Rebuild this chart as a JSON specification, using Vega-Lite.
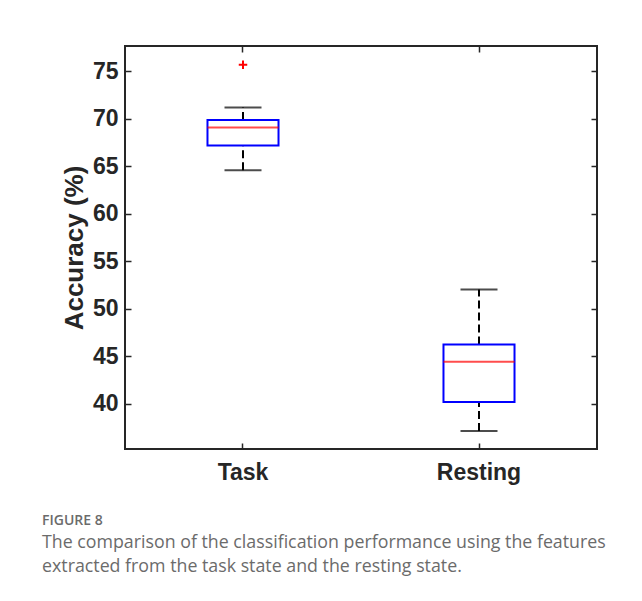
{
  "$schema": "https://vega.github.io/schema/vega-lite/v6.json",
  "width": 472,
  "height": 403,
  "autosize": {"type": "none"},
  "padding": {"left": 125, "top": 46, "right": 45, "bottom": 152},
  "background": "white",
  "datasets": {
    "stats": [
      {"group": "Task", "lower": 64.6, "q1": 67.2, "median": 69.1, "q3": 69.9, "upper": 71.2},
      {"group": "Resting", "lower": 37.15, "q1": 40.2, "median": 44.45, "q3": 46.25, "upper": 52.05}
    ],
    "outliers": [
      {"group": "Task", "value": 75.7}
    ]
  },
  "data": {"name": "stats"},
  "title": {
    "text": "FIGURE 8",
    "subtitle": ["The comparison of the classification performance using the features", "extracted from the task state and the resting state."],
    "orient": "bottom",
    "anchor": "start",
    "frame": "group",
    "dx": -83,
    "offset": 30,
    "font": "Open Sans",
    "fontSize": 14,
    "fontWeight": 600,
    "color": "#6b6b6b",
    "subtitleFont": "Open Sans",
    "subtitleFontSize": 17.8,
    "subtitleFontWeight": 400,
    "subtitleColor": "#6b6b6b",
    "subtitleLineHeight": 24,
    "subtitlePadding": 6
  },
  "config": {
    "view": {"stroke": "#262626", "strokeWidth": 2},
    "axis": {
      "domain": false,
      "grid": false,
      "tickSize": -6,
      "tickWidth": 1.5,
      "tickColor": "#262626",
      "labelFont": "Liberation Sans",
      "labelFontWeight": "bold",
      "labelFontSize": 23,
      "labelColor": "#262626",
      "titleFont": "Liberation Sans",
      "titleFontWeight": "bold",
      "titleFontSize": 26,
      "titleColor": "#262626"
    }
  },
  "resolve": {"axis": {"x": "independent", "y": "independent"}},
  "layer": [
    {
      "mark": {"type": "rule", "color": "black", "strokeWidth": 2, "strokeDash": [8, 4]},
      "encoding": {
        "x": {
          "field": "group", "type": "nominal", "sort": ["Task", "Resting"],
          "scale": {"domain": ["Task", "Resting"], "paddingInner": 0.699, "paddingOuter": 0.3495},
          "axis": {"orient": "bottom", "title": null, "labelAngle": 0, "labelPadding": 18}
        },
        "y": {
          "field": "q3", "type": "quantitative",
          "scale": {"domain": [35.26, 77.68], "nice": false, "zero": false},
          "axis": {"orient": "left", "title": "Accuracy (%)", "values": [40, 45, 50, 55, 60, 65, 70, 75], "labelPadding": 13, "titlePadding": 5}
        },
        "y2": {"field": "upper"}
      }
    },
    {
      "mark": {"type": "rule", "color": "black", "strokeWidth": 2, "strokeDash": [8, 4]},
      "encoding": {
        "x": {"field": "group", "type": "nominal", "sort": ["Task", "Resting"],
          "axis": {"orient": "top", "title": null, "labels": false}},
        "y": {"field": "lower", "type": "quantitative",
          "axis": {"orient": "right", "title": null, "labels": false, "values": [40, 45, 50, 55, 60, 65, 70, 75]}},
        "y2": {"field": "q1"}
      }
    },
    {
      "mark": {"type": "tick", "color": "black", "thickness": 2, "size": 37, "orient": "horizontal"},
      "encoding": {
        "x": {"field": "group", "type": "nominal", "sort": ["Task", "Resting"], "axis": null},
        "y": {"field": "upper", "type": "quantitative", "axis": null}
      }
    },
    {
      "mark": {"type": "tick", "color": "black", "thickness": 2, "size": 37, "orient": "horizontal"},
      "encoding": {
        "x": {"field": "group", "type": "nominal", "sort": ["Task", "Resting"], "axis": null},
        "y": {"field": "lower", "type": "quantitative", "axis": null}
      }
    },
    {
      "mark": {"type": "bar", "fill": "white", "stroke": "#0000ff", "strokeWidth": 2},
      "encoding": {
        "x": {"field": "group", "type": "nominal", "sort": ["Task", "Resting"], "axis": null},
        "y": {"field": "q1", "type": "quantitative", "axis": null},
        "y2": {"field": "q3"}
      }
    },
    {
      "mark": {"type": "tick", "color": "#ff0000", "thickness": 2, "size": 71, "orient": "horizontal"},
      "encoding": {
        "x": {"field": "group", "type": "nominal", "sort": ["Task", "Resting"], "axis": null},
        "y": {"field": "median", "type": "quantitative", "axis": null}
      }
    },
    {
      "data": {"name": "outliers"},
      "mark": {"type": "point", "shape": "M-1,0H1M0,-1V1", "size": 72, "filled": false, "stroke": "#ff0000", "strokeWidth": 2, "opacity": 1},
      "encoding": {
        "x": {"field": "group", "type": "nominal", "sort": ["Task", "Resting"], "axis": null},
        "y": {"field": "value", "type": "quantitative", "axis": null}
      }
    }
  ]
}
